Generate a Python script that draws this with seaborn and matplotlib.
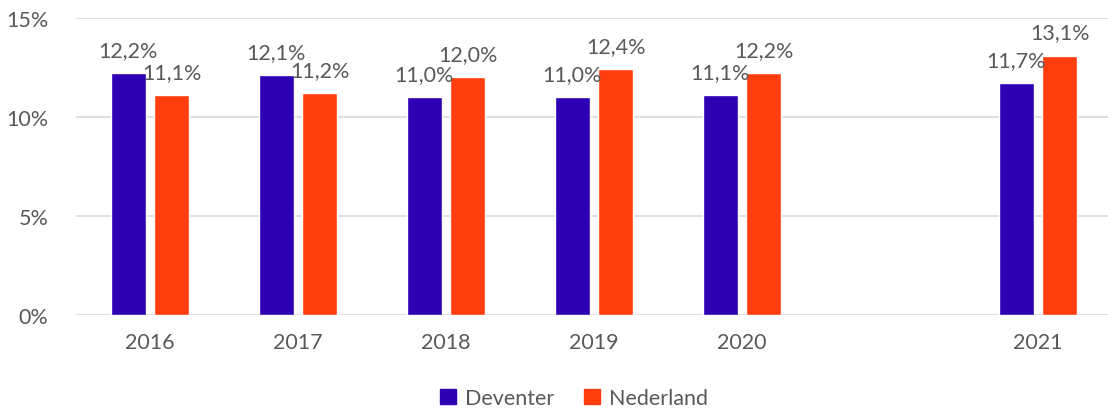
import pandas as pd
import matplotlib
matplotlib.use("Agg")
import matplotlib.pyplot as plt
import seaborn as sns

# values (percent)
years = ["2016", "2017", "2018", "2019", "2020", "2021"]
deventer = [12.2, 12.1, 11.0, 11.0, 11.1, 11.7]
nederland = [11.1, 11.2, 12.0, 12.4, 12.2, 13.1]
series = ["Deventer", "Nederland"]
colors = ["#2E00B3", "#FF3D0D"]

# empty slot between 2020 and 2021, like in the original
order = ["2016", "2017", "2018", "2019", "2020", " ", "2021"]

df = pd.DataFrame({
    "year": years * 2,
    "value": deventer + nederland,
    "serie": [series[0]] * len(years) + [series[1]] * len(years),
})

sns.set_style("white")
plt.rcParams["font.family"] = ["Lato", "DejaVu Sans"]
text_color = "#595959"
fs = 15.5

fig = plt.figure(figsize=(11.08, 4.14), dpi=100)
ax = fig.add_axes([76 / 1108, 1 - 316 / 414, (1112 - 76) / 1108, (316 - 19) / 414])

sns.barplot(data=df, x="year", y="value", hue="serie", order=order,
            hue_order=series, palette=colors, width=0.59, gap=0.2,
            saturation=1, ax=ax, legend=False)

ax.set_xlim(-0.5, 6.5)
ax.set_ylim(0, 15)
ax.set_yticks([0, 5, 10, 15])
ax.set_yticklabels([f"{v}%" for v in [0, 5, 10, 15]])
ax.set_xlabel("")
ax.set_ylabel("")
ax.yaxis.grid(True, color="#D9D9D9", linewidth=1.2)
ax.set_axisbelow(True)
for s in ax.spines.values():
    s.set_visible(False)
ax.tick_params(axis="both", length=0, labelsize=fs, colors=text_color)
ax.tick_params(axis="y", pad=20)
ax.tick_params(axis="x", pad=12)

# data labels above each bar, Dutch decimal comma
for cont in ax.containers:
    for bar in cont:
        h = bar.get_height()
        if pd.isna(h) or h == 0:
            continue
        label = f"{h:.1f}%".replace(".", ",")
        ax.annotate(label, (bar.get_x() + bar.get_width() / 2, h),
                    xytext=(0, 12.5), textcoords="offset points",
                    ha="center", va="baseline", fontsize=fs, color=text_color)

handles = [plt.Rectangle((0, 0), 1, 1, color=c) for c in colors]
fig.legend(handles, series, loc="lower center", bbox_to_anchor=(0.518, -0.035),
           ncol=2, frameon=False, fontsize=fs, labelcolor=text_color,
           handlelength=0.75, handleheight=0.75, handletextpad=0.4, columnspacing=1.4)

fig.savefig("out.png", dpi=100)
